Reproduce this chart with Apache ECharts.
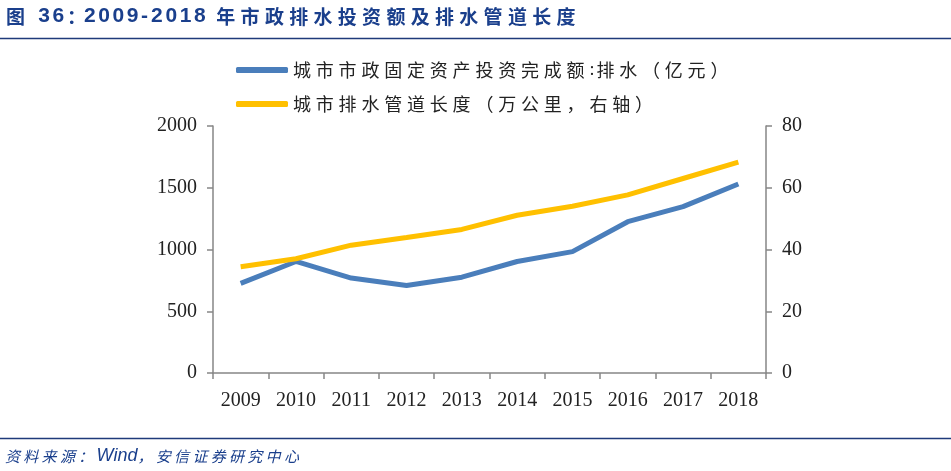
<!DOCTYPE html>
<html><head><meta charset="utf-8">
<script src="https://cdn.jsdelivr.net/npm/echarts@6/dist/echarts.min.js"></script>
<style>html,body{margin:0;padding:0;background:#fff}#c{width:951px;height:471px}</style>
</head><body><div id="c"></div>
<script>
const categories = ['2009','2010','2011','2012','2013','2014','2015','2016','2017','2018'];
const investment = [726, 903, 769, 708, 776, 903, 983, 1225, 1347, 1530];
const pipeLength = [34.4, 37.0, 41.4, 43.9, 46.5, 51.1, 54.0, 57.7, 63.0, 68.3];
const leftTicks = [0, 500, 1000, 1500, 2000];
const rightTicks = [0, 20, 40, 60, 80];
const seriesNames = ['城市市政固定资产投资完成额:排水（亿元）', '城市排水管道长度（万公里，右轴）'];
const titleText = '图 36：2009-2018 年市政排水投资额及排水管道长度';
const sourceText = '资料来源：Wind，安信证券研究中心';

// wrap each character in a rich token so character spacing resembles the original
function spaced(str, map) {
  return str.split('').map(ch => {
    if (map[ch]) return `{${map[ch]}|${ch === ' ' ? '\u00a0' : ch}}`;
    return ch.charCodeAt(0) > 0x2e80 ? `{w|${ch}}` : `{n|${ch}}`;
  }).join('');
}

const chart = echarts.init(document.getElementById('c'));
const axisGray = '#868686';
const serif = '"Liberation Serif","DejaVu Serif",serif';
const navy = '#1a3f8c';
const cjk = '"Noto Sans CJK SC",sans-serif';
const arial = '"Liberation Sans",Arial,sans-serif';
chart.setOption({
  animation: false,
  backgroundColor: '#fff',
  graphic: [
    {type:'text', left: 6, top: 6, style:{
      text: spaced(titleText, {' ': 's', '-': 'h', '：': 'c'}),
      rich: {
        w: {fontSize: 19, fontWeight: 'bold', fontFamily: cjk, fill: navy, width: 24.3, height: 24},
        c: {fontSize: 19, fontWeight: 'bold', fontFamily: cjk, fill: navy, width: 17, height: 24},
        n: {fontSize: 21, fontWeight: 'bold', fontFamily: arial, fill: navy, width: 14.3, height: 24},
        h: {fontSize: 21, fontWeight: 'bold', fontFamily: arial, fill: navy, width: 10, height: 24},
        s: {fontSize: 20, width: 8, height: 24}
      }}},
    {type:'line', shape:{x1:0,y1:38.5,x2:951,y2:38.5}, style:{stroke:'#1f3a7a', lineWidth:1.5}},
    {type:'line', shape:{x1:0,y1:438.5,x2:951,y2:438.5}, style:{stroke:'#1f3a7a', lineWidth:1.5}},
    {type:'text', left: 5, top: 447, style:{
      text: spaced(sourceText, {}),
      rich: {
        w: {fontSize: 15, fontStyle: 'italic', fontFamily: cjk, fill: navy, width: 18.3, height: 19},
        n: {fontSize: 18, fontStyle: 'italic', fontFamily: arial, fill: navy, height: 19}
      }}}
  ],
  legend: {
    orient: 'vertical', left: 231, top: 56, itemWidth: 52, itemHeight: 6, itemGap: 16,
    icon: 'roundRect',
    formatter: name => spaced(name, {}),
    textStyle: {color: '#222',
      rich: {
        w: {fontSize: 18, fontFamily: cjk, color: '#222', width: 22.8, height: 21},
        n: {fontSize: 18, fontFamily: serif, color: '#222', width: 7, height: 21}
      }},
    data: seriesNames
  },
  grid: {left: 213, right: 185, top: 126, bottom: 98},
  xAxis: {
    type: 'category', data: categories, boundaryGap: true,
    axisLine: {lineStyle: {color: axisGray, width: 1.5}},
    axisTick: {show: true, length: 6, lineStyle:{color: axisGray, width: 1.5}},
    axisLabel: {fontSize: 20, color: '#222', fontFamily: serif, margin: 18}
  },
  yAxis: [
    {type:'value', min: 0, max: 2000, interval: 500, position:'left',
     axisLine:{show:true, lineStyle:{color: axisGray, width:1.5}},
     axisTick:{show:true, length:6, lineStyle:{color: axisGray, width:1.5}},
     splitLine:{show:false},
     axisLabel:{fontSize:20, color:'#222', fontFamily: serif, margin: 16,
       formatter: v => leftTicks.includes(v) ? String(v) : ''}},
    {type:'value', min: 0, max: 80, interval: 20, position:'right',
     axisLine:{show:true, lineStyle:{color: axisGray, width:1.5}},
     axisTick:{show:true, length:6, lineStyle:{color: axisGray, width:1.5}},
     splitLine:{show:false},
     axisLabel:{fontSize:20, color:'#222', fontFamily: serif, margin: 16,
       formatter: v => rightTicks.includes(v) ? String(v) : ''}}
  ],
  series: [
    {name: seriesNames[0], type:'line', data: investment, yAxisIndex: 0, symbol:'none',
     lineStyle:{color:'#4a7ebb', width:5}, itemStyle:{color:'#4a7ebb'}},
    {name: seriesNames[1], type:'line', data: pipeLength, yAxisIndex: 1, symbol:'none',
     lineStyle:{color:'#ffc000', width:5}, itemStyle:{color:'#ffc000'}}
  ]
});
</script></body></html>
